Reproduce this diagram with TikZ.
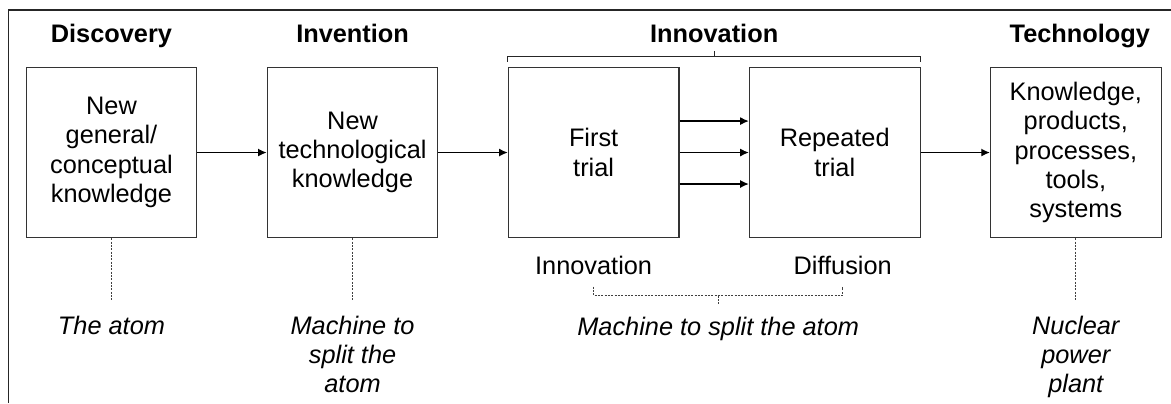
\documentclass[tikz,border=0pt]{standalone}
\usepackage{fontspec}
\setmainfont{Liberation Sans}
\usepackage{tikz}
\usetikzlibrary{arrows.meta}
\usetikzlibrary{positioning}
\usetikzlibrary{calc}
\tikzset{>={Latex[length=6.5pt,width=6pt]}}
\tikzset{
  stage/.style = {draw=black!80, line width=0.8pt, minimum width=128pt, minimum height=128pt, align=center, inner sep=2pt},
  heading/.style = {font=\fontsize{19}{22}\selectfont\bfseries},
  sample/.style = {font=\fontsize{19}{22}\selectfont\itshape, align=center, inner sep=0pt},
  sublabel/.style = {inner sep=0pt},
  guide/.style = {dash pattern=on 1.5pt off 1pt, line width=0.5pt, black!75},
  frame/.style = {line width=0.8pt, black!85},
  flow/.style = {->, line width=1pt, black}
}

\begin{document}
\begin{tikzpicture}[node distance = 52pt, font=\fontsize{19}{22}\selectfont]
  \useasboundingbox (-83.6pt,-187.9pt) rectangle (794.6pt,114.4pt);
  \draw[frame] (-76.9pt,-187.9pt) -- (-76.9pt,106.9pt) -- (794.6pt,106.9pt);

  % stages
  \node[stage] (disc) at (0,0) {New\\general/\\conceptual\\knowledge};
  \node[stage, right = of disc] (inv) {New\\technological\\knowledge};
  \node[stage, right = of inv] (first) {First\\trial};
  \node[stage, right = of first] (rep) {Repeated\\trial};
  \node[stage, right = of rep] (tech) {Knowledge,\\products,\\processes,\\tools,\\systems};

  % headings
  \node[heading, above = 18pt of disc, anchor=base] (discH) {Discovery};
  \node[heading, above = 18pt of inv, anchor=base] (invH) {Invention};
  \node[heading, anchor=base] (innovH) at ($(first.north)!0.5!(rep.north) + (0,18pt)$) {Innovation};
  \node[heading, above = 18pt of tech, anchor=base, xshift=3pt] (techH) {Technology};

  \draw[frame] ([yshift=3.75pt]first.north west) -- ([yshift=7.5pt]first.north west)
    -- ([yshift=7.5pt]rep.north east) -- ([yshift=3.75pt]rep.north east);
  \draw[frame] ($(first.north)!0.5!(rep.north) + (0,7.5pt)$) -- ++(0,4.5pt);

  \draw[flow] (disc) -- (inv);
  \draw[flow] (inv) -- (first);
  \foreach \dy in {-23.6,0,23.6}
    \draw[flow] ([yshift=\dy pt]first.east) -- ([yshift=\dy pt]rep.west);
  \draw[flow] (rep) -- (tech);

  % innovation / diffusion
  \node[sublabel, below = 12.75pt of first] (innovL) {Innovation};
  \node[sublabel, below = 12.75pt of rep, xshift=6pt] (diffL) {Diffusion};
  \coordinate (lvlA) at ([yshift=-9pt]innovL.south);
  \coordinate (lvlB) at ([yshift=-15.75pt]innovL.south);
  \draw[guide] (lvlA) -- (lvlB) -- (lvlB -| diffL) -- (lvlA -| diffL);
  \coordinate (lvlM) at ($(lvlB)!0.5!(lvlB -| diffL)$);
  \draw[guide] (lvlM) -- ++(0,-6.75pt) coordinate (lvlE);

  % examples
  \node[sample, below = 57.75pt of disc] (discEx) {The atom};
  \node[sample, below = 57.75pt of inv] (invEx) {Machine to\\split the\\atom};
  \node[sample, below = 9pt of lvlE] (innovEx) {Machine to split the atom};
  \node[sample, below = 57.75pt of tech] (techEx) {Nuclear\\power\\plant};

  \draw[guide, shorten >=10.5pt] (disc) -- (discEx);
  \draw[guide, shorten >=10.5pt] (inv) -- (invEx);
  \draw[guide, shorten >=10.5pt] (tech) -- (techEx);
\end{tikzpicture}
\end{document}
